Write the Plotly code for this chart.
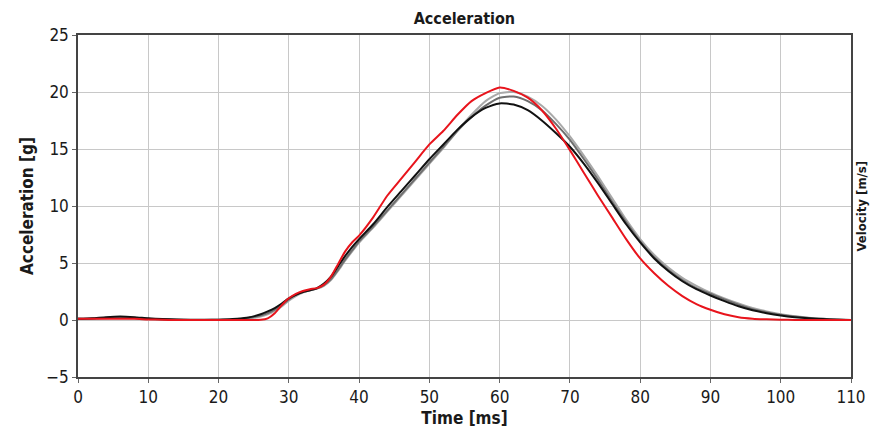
import plotly.graph_objects as go

# Time axis [ms]
time_ms = [0, 2, 4, 6, 8, 10, 12, 14, 16, 18, 20, 22, 24, 26,
           27, 28, 29, 30, 31, 32, 33, 34, 35, 36, 37, 38, 39, 40,
           42, 44, 46, 48, 50, 52, 54, 56, 58, 60, 62, 64, 66, 68, 70, 72, 74, 76, 78, 80,
           82, 84, 86, 88, 90, 92, 94, 96, 98, 100, 102, 104, 106, 108, 110]

# Acceleration [g]
accel_red = [0.1, 0.1, 0.1, 0.1, 0.1, 0.05, 0.02, 0, 0, 0, 0, 0, 0, 0.02,
             0.15, 0.6, 1.3, 1.9, 2.3, 2.55, 2.7, 2.8, 3.1, 3.8, 4.9, 6.0, 6.8, 7.4,
             9.0, 10.9, 12.4, 13.9, 15.4, 16.6, 18.0, 19.2, 19.9, 20.4, 20.1, 19.5, 18.4, 16.8,
             14.9, 12.9, 10.9, 9.0, 7.1, 5.4, 4.1, 3.0, 2.1, 1.4, 0.9, 0.5, 0.25, 0.12, 0.06,
             0.03, 0.01, 0, 0, 0, 0]

accel_black = [0.1, 0.15, 0.25, 0.3, 0.25, 0.15, 0.08, 0.04, 0.02, 0.02, 0.03, 0.08, 0.2, 0.5,
               0.75, 1.05, 1.45, 1.9, 2.2, 2.45, 2.6, 2.8, 3.2, 3.8, 4.7, 5.6, 6.4, 7.1,
               8.4, 9.9, 11.3, 12.7, 14.1, 15.4, 16.7, 17.8, 18.6, 19.0, 18.9, 18.4, 17.5, 16.4,
               15.2, 13.7, 12.0, 10.2, 8.4, 6.8, 5.4, 4.3, 3.4, 2.7, 2.15, 1.65, 1.2, 0.85, 0.6,
               0.4, 0.25, 0.15, 0.08, 0.03, 0.01]

accel_gray = [0.1, 0.12, 0.2, 0.25, 0.2, 0.1, 0.05, 0.02, 0.01, 0.01, 0.02, 0.05, 0.15, 0.4,
              0.6, 0.9, 1.3, 1.8, 2.2, 2.45, 2.6, 2.75, 3.05, 3.6, 4.4, 5.3, 6.1, 6.9,
              8.2, 9.6, 11.0, 12.4, 13.8, 15.2, 16.6, 17.8, 18.8, 19.5, 19.6, 19.2, 18.4, 17.2,
              15.8, 14.1, 12.3, 10.4, 8.6, 6.9, 5.5, 4.4, 3.5, 2.8, 2.3, 1.8, 1.35, 0.95, 0.68,
              0.46, 0.3, 0.18, 0.1, 0.04, 0.01]

accel_lightgray = [0.1, 0.1, 0.15, 0.2, 0.15, 0.08, 0.04, 0.02, 0.01, 0.01, 0.01, 0.03, 0.1, 0.3,
                   0.5, 0.8, 1.2, 1.7, 2.1, 2.4, 2.6, 2.75, 3.0, 3.5, 4.3, 5.2, 6.0, 6.8,
                   8.1, 9.5, 10.9, 12.3, 13.7, 15.1, 16.6, 18.0, 19.2, 19.9, 20.0, 19.6, 18.8, 17.6,
                   16.1, 14.4, 12.6, 10.7, 8.8, 7.1, 5.7, 4.6, 3.7, 3.0, 2.4, 1.9, 1.45, 1.05, 0.75,
                   0.5, 0.32, 0.2, 0.1, 0.04, 0.01]

x_ticks = [0, 10, 20, 30, 40, 50, 60, 70, 80, 90, 100, 110]
y_ticks = [-5, 0, 5, 10, 15, 20, 25]

FONT = "Liberation Sans Narrow, DejaVu Sans Condensed, Arial Narrow, sans-serif"

fig = go.Figure()
series = [
    (accel_lightgray, "#a9a9a9", "Test 1"),
    (accel_gray, "#6e6e6e", "Test 2"),
    (accel_black, "#111111", "Test 3"),
    (accel_red, "#e8141c", "Test 4"),
]
for vals, color, name in series:
    fig.add_trace(go.Scatter(x=time_ms, y=vals, mode="lines", name=name,
                             line=dict(color=color, width=2, shape="spline", smoothing=0.6)))

axis_common = dict(showgrid=True, gridcolor="#c8c8c8", gridwidth=1,
                   showline=True, linecolor="#444444", linewidth=1.5, mirror=True,
                   ticks="outside", ticklen=4, tickcolor="#666666", zeroline=False,
                   automargin=False,
                   tickfont=dict(family=FONT, size=17, color="#1a1a1a"))

fig.update_layout(
    width=871, height=437,
    margin=dict(l=78, r=20, t=35, b=60),
    paper_bgcolor="white", plot_bgcolor="white",
    showlegend=False,
    title=dict(text="<b>Acceleration</b>", x=0.5332, xanchor="center", y=0.958, yanchor="middle",
               font=dict(family=FONT, size=16, color="#1a1a1a")),
    xaxis=dict(range=[0, 110], tickvals=x_ticks, **axis_common,
               title=dict(text="<b>Time [ms]</b>", standoff=6,
                          font=dict(family=FONT, size=17, color="#1a1a1a"))),
    yaxis=dict(range=[-5, 25], tickvals=y_ticks, **axis_common,
               title=dict(text="<b>Acceleration [g]</b>", standoff=8,
                          font=dict(family=FONT, size=17, color="#1a1a1a"))),
)

fig.add_annotation(text="<b>Velocity [m/s]</b>", xref="paper", yref="paper",
                   x=1.0, y=0.5, xanchor="right", yanchor="middle", textangle=-90,
                   xshift=19, showarrow=False,
                   font=dict(family=FONT, size=13, color="#1a1a1a"))

fig.write_html("out.html")
